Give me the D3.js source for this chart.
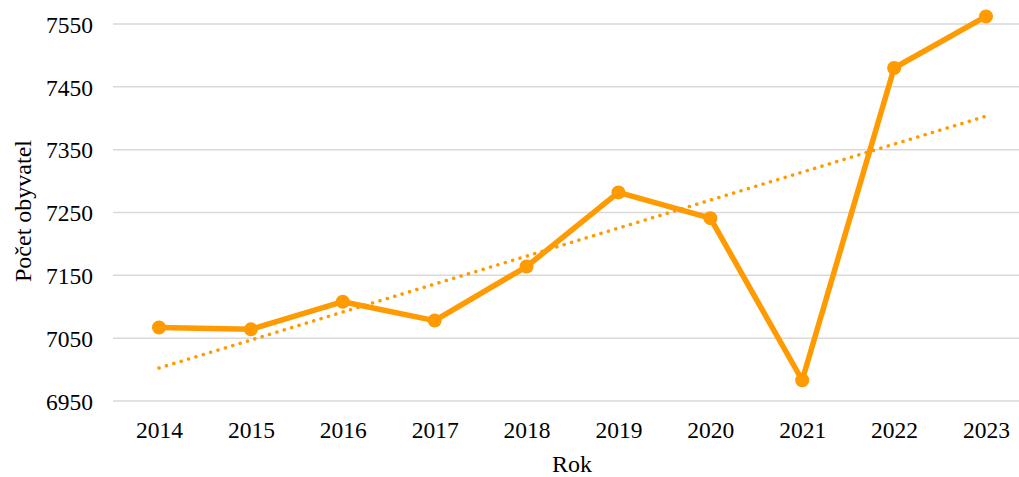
<!DOCTYPE html>
<html>
<head>
<meta charset="utf-8">
<script src="https://cdn.jsdelivr.net/npm/d3@7"></script>
<style>
  body { margin: 0; background: #fff; }
</style>
</head>
<body>
<div id="chart"></div>
<script>
const years = [`2014`, `2015`, `2016`, `2017`, `2018`, `2019`, `2020`, `2021`, `2022`, `2023`];
const population = [7067, 7064, 7108, 7078, 7164, 7282, 7241, 6983, 7480, 7562];
const yTicks = [6950, 7050, 7150, 7250, 7350, 7450, 7550];

const width = 1019;
const height = 477;
const plot = { left: 113, right: 1019, top: 24, bottom: 401 };
const orange = `#ff9a00`;
const serif = `'Liberation Serif'`;

const svg = d3.select(`#chart`).append(`svg`)
  .attr(`width`, width)
  .attr(`height`, height);

const x = d3.scalePoint()
  .domain(years)
  .range([159, 986]);

const y = d3.scaleLinear()
  .domain([6950, 7550])
  .range([plot.bottom, plot.top]);

// gridlines
svg.append(`g`)
  .selectAll(`line`)
  .data(yTicks)
  .enter().append(`line`)
    .attr(`x1`, plot.left)
    .attr(`x2`, plot.right)
    .attr(`y1`, d => y(d))
    .attr(`y2`, d => y(d))
    .attr(`stroke`, `#d9d9d9`)
    .attr(`stroke-width`, 1.5);

// y axis labels
const yAxis = svg.append(`g`)
  .attr(`transform`, `translate(${plot.left - 20},0)`)
  .call(d3.axisLeft(y).tickValues(yTicks).tickFormat(d3.format(`d`)).tickSize(0).tickPadding(0));
yAxis.select(`.domain`).remove();
yAxis.selectAll(`text`)
  .style(`font-family`, serif)
  .style(`font-size`, `23.5px`)
  .attr(`fill`, `#000`)
  .attr(`dy`, `0.35em`);

// x axis labels
const xAxis = svg.append(`g`)
  .attr(`transform`, `translate(0,${plot.bottom + 19})`)
  .call(d3.axisBottom(x).tickSize(0).tickPadding(0));
xAxis.select(`.domain`).remove();
xAxis.selectAll(`text`)
  .style(`font-family`, serif)
  .style(`font-size`, `23.5px`)
  .attr(`fill`, `#000`)
  .attr(`dy`, `0.75em`);

// axis titles
svg.append(`text`)
  .attr(`x`, 572)
  .attr(`y`, 472)
  .attr(`text-anchor`, `middle`)
  .style(`font-family`, serif)
  .style(`font-size`, `24px`)
  .text(`Rok`);

svg.append(`text`)
  .attr(`transform`, `translate(31,211) rotate(-90)`)
  .attr(`text-anchor`, `middle`)
  .style(`font-family`, serif)
  .style(`font-size`, `24px`)
  .text(`Počet obyvatel`);

// linear trend (least squares)
const n = population.length;
const meanX = d3.mean(population, (d, i) => i);
const meanY = d3.mean(population);
const slope = d3.sum(population, (d, i) => (i - meanX) * (d - meanY)) /
              d3.sum(population, (d, i) => (i - meanX) ** 2);
const intercept = meanY - slope * meanX;
const trend = [0, n - 1].map(i => ({ year: years[i], value: intercept + slope * i }));

svg.append(`path`)
  .datum(trend)
  .attr(`fill`, `none`)
  .attr(`stroke`, orange)
  .attr(`stroke-width`, 3.5)
  .attr(`stroke-linecap`, `round`)
  .attr(`stroke-dasharray`, `0.1,7.6`)
  .attr(`d`, d3.line().x(d => x(d.year)).y(d => y(d.value)));

// data line
const data = years.map((yr, i) => ({ year: yr, value: population[i] }));

svg.append(`path`)
  .datum(data)
  .attr(`fill`, `none`)
  .attr(`stroke`, orange)
  .attr(`stroke-width`, 5.5)
  .attr(`stroke-linejoin`, `round`)
  .attr(`d`, d3.line().x(d => x(d.year)).y(d => y(d.value)));

svg.selectAll(`.dot`)
  .data(data)
  .enter().append(`circle`)
    .attr(`class`, `dot`)
    .attr(`cx`, d => x(d.year))
    .attr(`cy`, d => y(d.value))
    .attr(`r`, 7)
    .attr(`fill`, orange);
</script>
</body>
</html>
